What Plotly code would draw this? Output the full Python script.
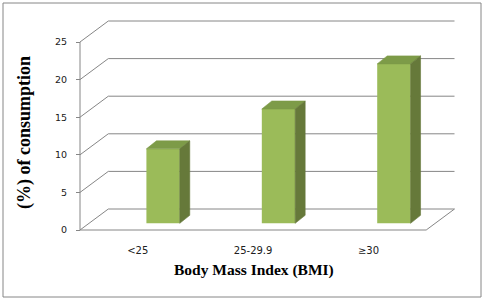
import plotly.graph_objects as go

categories = ["<25", "25-29.9", "≥30"]
values = [9.9, 15.2, 21.2]
y_ticks = [0, 5, 10, 15, 20, 25]

W, H = 485, 300
L, R, T, B = 60, 20, 10, 60
PW, PH = W - L - R, H - T - B
X0PX, Y0PX = 80, 230          # pixel of front-left floor corner
XS, YS = 115.4, 7.52          # px per data unit
xr = [-0.5 - (X0PX - L) / XS, -0.5 + (W - R - X0PX) / XS]
yr = [-(T + PH - Y0PX) / YS, (Y0PX - T) / YS]

dX, dY = 28.3 / XS, 21 / YS    # wall depth
ddx, ddy = 10 / XS, 8 / YS     # bar depth
off, bw, base = 0.22, 0.289, 0.89
n = len(categories)
xl, xrgt = -0.5, n - 0.5


def paper(px, py):
    return (px - L) / PW, (T + PH - py) / PH


grid_color = "#868686"
shapes = []
path = ""
for v in y_ticks:
    path += f"M {xl},{v} L {xl + dX},{v + dY} L {xrgt + dX},{v + dY} "
path += f"M {xl},0 L {xrgt},0 L {xrgt + dX},{dY} "
path += f"M {xl},0 L {xl},{y_ticks[-1]}"
shapes.append(dict(type="path", path=path, xref="x", yref="y", layer="below",
                   line=dict(color=grid_color, width=1)))

bx0, by0 = paper(3, 297)
bx1, by1 = paper(481, 3)
shapes.append(dict(type="rect", xref="paper", yref="paper", x0=bx0, y0=by0, x1=bx1, y1=by1,
                   line=dict(color=grid_color, width=1), layer="below"))

fig = go.Figure()
xpos = [i + off for i in range(n)]
fig.add_trace(go.Bar(x=xpos, y=values, base=base, width=bw,
                     marker=dict(color="#9BBB59", line=dict(width=0)),
                     showlegend=False, hoverinfo="skip"))

for xc, v in zip(xpos, values):
    x0, x1 = xc - bw / 2, xc + bw / 2
    t = base + v
    # top face
    fig.add_trace(go.Scatter(
        x=[x0, x0 + ddx, x1 + ddx, x1, x0], y=[t, t + ddy, t + ddy, t, t],
        fill="toself", fillcolor="#7D9B48", mode="lines", line=dict(width=0.6, color="#7D9B48"),
        showlegend=False, hoverinfo="skip"))
    # side face
    fig.add_trace(go.Scatter(
        x=[x1, x1 + ddx, x1 + ddx, x1, x1], y=[base, base + ddy, t + ddy, t, base],
        fill="toself", fillcolor="#66793A", mode="lines", line=dict(width=0.6, color="#66793A"),
        showlegend=False, hoverinfo="skip"))

ytx, yty = paper(24, 133)
xtx, xty = paper(254, 270)
annotations = [
    dict(text="<b>(%) of consumption</b>", xref="paper", yref="paper", x=ytx, y=yty,
         textangle=-90, showarrow=False, xanchor="center", yanchor="middle",
         font=dict(family="Liberation Serif", size=18, color="#000000")),
    dict(text="<b>Body Mass Index (BMI)</b>", xref="paper", yref="paper", x=xtx, y=xty,
         showarrow=False, xanchor="center", yanchor="middle",
         font=dict(family="Liberation Serif", size=15.5, color="#000000")),
]

fig.update_layout(
    width=W, height=H,
    margin=dict(l=L, r=R, t=T, b=B, pad=0),
    paper_bgcolor="white", plot_bgcolor="white",
    shapes=shapes, annotations=annotations,
    showlegend=False,
    xaxis=dict(range=xr, tickvals=list(range(n)), ticktext=categories,
               showgrid=False, zeroline=False, showline=False, ticks="",
               anchor="free", position=(T + PH - Y0PX) / PH,
               ticklabelstandoff=13,
               tickfont=dict(family="DejaVu Sans", size=10, color="#202020")),
    yaxis=dict(range=yr, tickvals=y_ticks, showgrid=False, zeroline=False, showline=False,
               ticks="outside", ticklen=4, tickcolor=grid_color, tickwidth=1,
               anchor="free", position=(X0PX - L) / PW,
               ticklabelstandoff=7,
               tickfont=dict(family="DejaVu Sans", size=9.5, color="#202020")),
)

fig.write_html("out.html")
